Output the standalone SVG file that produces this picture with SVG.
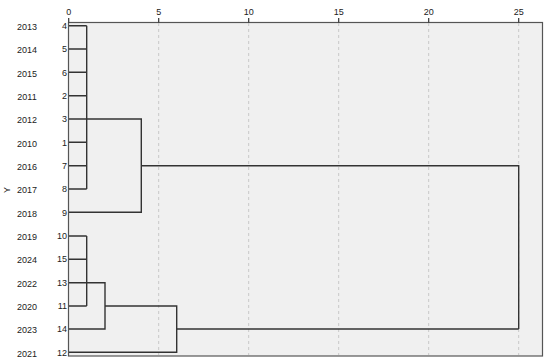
<svg xmlns="http://www.w3.org/2000/svg" width="550" height="363" viewBox="0 0 550 363">
<style>
text{font-family:"Liberation Sans",Arial,sans-serif;font-size:9px;fill:#222}
.yr{text-anchor:middle}
.id{text-anchor:end}
.ax{text-anchor:middle}
.grid{stroke:#c8c8c8;stroke-width:1;stroke-dasharray:3,3}
.frame{fill:#f0f0f0;stroke:#555;stroke-width:1.2}
.tick{stroke:#333;stroke-width:1.2}
.ln{stroke:#333;stroke-width:1.4;fill:none}
</style>
<rect x="0" y="0" width="550" height="363" fill="#fff"/>
<g id="plot">
<rect class="frame" x="68.5" y="22.5" width="474" height="333.5"/>
<line class="grid" x1="158.7" y1="23" x2="158.7" y2="355"/>
<line class="grid" x1="248.7" y1="23" x2="248.7" y2="355"/>
<line class="grid" x1="338.7" y1="23" x2="338.7" y2="355"/>
<line class="grid" x1="428.7" y1="23" x2="428.7" y2="355"/>
<line class="grid" x1="518.7" y1="23" x2="518.7" y2="355"/>
</g>
<g id="axis">
<line class="tick" x1="68.7" y1="18" x2="68.7" y2="22.5"/>
<line class="tick" x1="158.7" y1="18" x2="158.7" y2="22.5"/>
<line class="tick" x1="248.7" y1="18" x2="248.7" y2="22.5"/>
<line class="tick" x1="338.7" y1="18" x2="338.7" y2="22.5"/>
<line class="tick" x1="428.7" y1="18" x2="428.7" y2="22.5"/>
<line class="tick" x1="518.7" y1="18" x2="518.7" y2="22.5"/>
<text class="ax" x="68.7" y="15">0</text>
<text class="ax" x="158.7" y="15">5</text>
<text class="ax" x="248.7" y="15">10</text>
<text class="ax" x="338.7" y="15">15</text>
<text class="ax" x="428.7" y="15">20</text>
<text class="ax" x="518.7" y="15">25</text>
<text x="0" y="0" transform="translate(10,190) rotate(-90)" text-anchor="middle">Y</text>
</g>
<g id="labels">
<text class="yr" x="27" y="30">2013</text><text class="id" x="67" y="29">4</text>
<text class="yr" x="27" y="53.3">2014</text><text class="id" x="67" y="52.3">5</text>
<text class="yr" x="27" y="76.7">2015</text><text class="id" x="67" y="75.7">6</text>
<text class="yr" x="27" y="100">2011</text><text class="id" x="67" y="99">2</text>
<text class="yr" x="27" y="123.3">2012</text><text class="id" x="67" y="122.3">3</text>
<text class="yr" x="27" y="146.7">2010</text><text class="id" x="67" y="145.7">1</text>
<text class="yr" x="27" y="170">2016</text><text class="id" x="67" y="169">7</text>
<text class="yr" x="27" y="193.3">2017</text><text class="id" x="67" y="192.3">8</text>
<text class="yr" x="27" y="216.7">2018</text><text class="id" x="67" y="215.7">9</text>
<text class="yr" x="27" y="240">2019</text><text class="id" x="67" y="239">10</text>
<text class="yr" x="27" y="263.3">2024</text><text class="id" x="67" y="262.3">15</text>
<text class="yr" x="27" y="286.7">2022</text><text class="id" x="67" y="285.7">13</text>
<text class="yr" x="27" y="310">2020</text><text class="id" x="67" y="309">11</text>
<text class="yr" x="27" y="333.3">2023</text><text class="id" x="67" y="332.3">14</text>
<text class="yr" x="27" y="356.7">2021</text><text class="id" x="67" y="355.7">12</text>
</g>
<g id="connectors">
<path class="ln" d="M69,25.7H86.7M69,49H86.7M69,72.3H86.7M69,95.7H86.7M69,119H86.7M69,142.3H86.7M69,165.7H86.7M69,189H86.7M86.7,25.7V189"/>
<path class="ln" d="M86.7,119H141.3V212.3H69"/>
<path class="ln" d="M141.3,165.7H518.7V329"/>
<path class="ln" d="M69,236H86.7M69,259.3H86.7M69,282.7H86.7M69,306H86.7M86.7,236V306"/>
<path class="ln" d="M86.7,282.7H105V329H69"/>
<path class="ln" d="M105,306H176.7V352.3H69"/>
<path class="ln" d="M176.7,329H518.7"/>
</g>
</svg>
